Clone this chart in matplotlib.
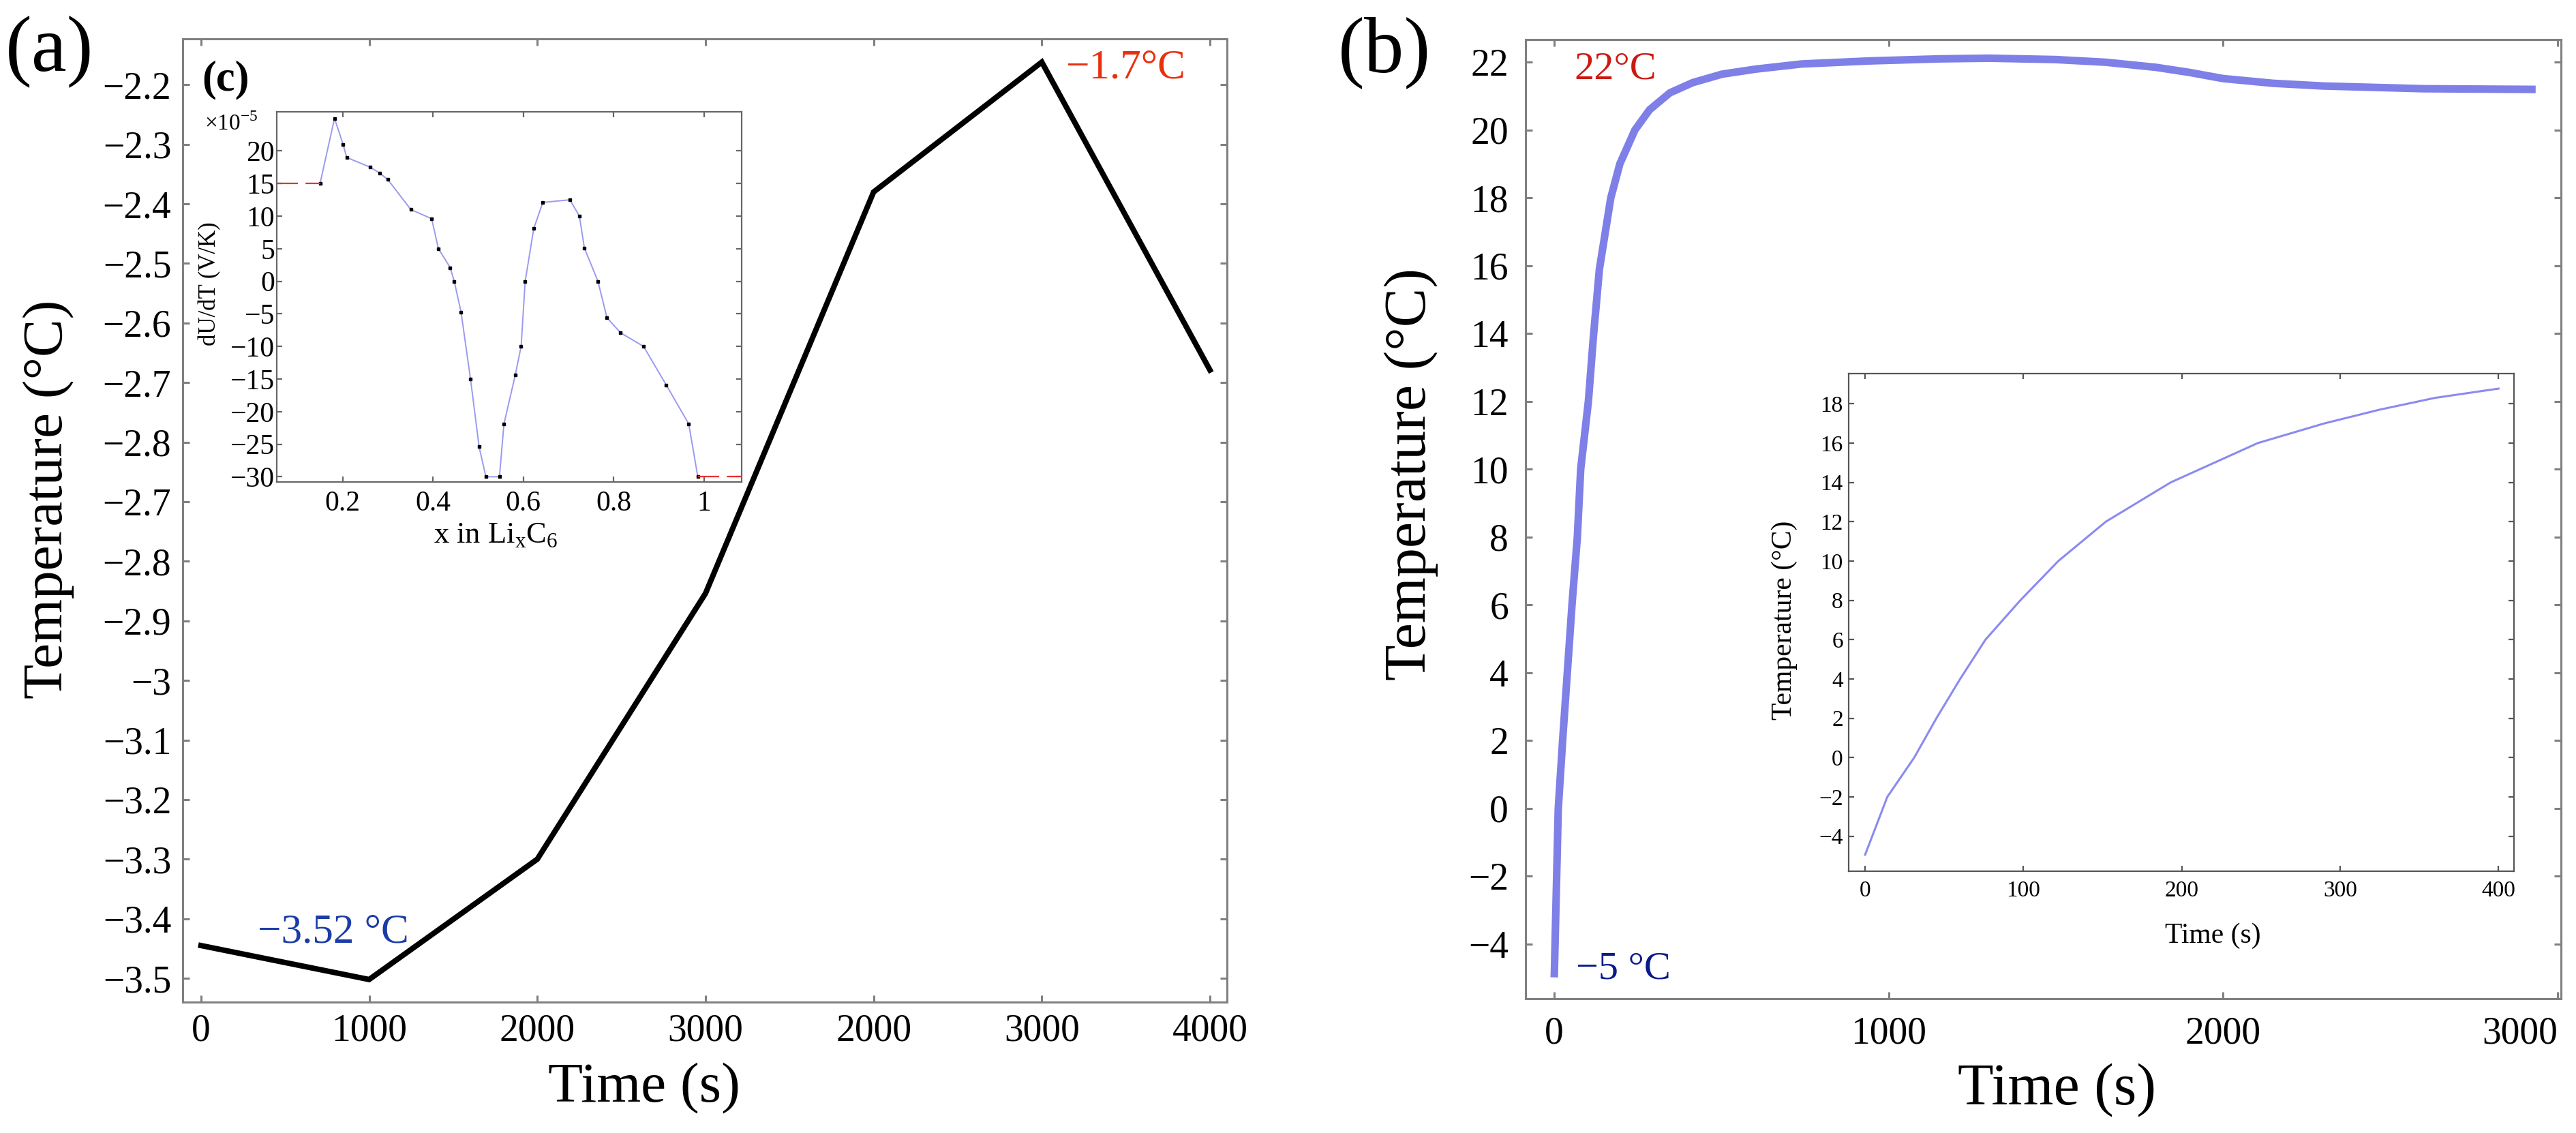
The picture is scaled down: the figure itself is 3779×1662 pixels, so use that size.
import numpy as np
import matplotlib
matplotlib.use("Agg")
import matplotlib.pyplot as plt

plt.rcParams['font.family'] = ['Liberation Serif', 'DejaVu Serif']
plt.rcParams['mathtext.fontset'] = 'custom'
plt.rcParams['mathtext.rm'] = 'Liberation Serif'

# --- (a) temperature at the cell, black polyline ---
# the source figure repeats tick labels on both axes (2000/3000 and -2.7/-2.8 twice),
# so the points live on evenly spaced slots and the slots get the printed labels
a_xticklabels = ['0', '1000', '2000', '3000', '2000', '3000', '4000']
a_yticklabels = ['−2.2', '−2.3', '−2.4', '−2.5', '−2.6', '−2.7', '−2.8', '−2.7',
                 '−2.8', '−2.9', '−3', '−3.1', '−3.2', '−3.3', '−3.4', '−3.5']
a_time = [0, 1000, 2000, 3000, 4000, 5000, 6000]
a_temp = [-3.645, -3.702, -3.50, -3.054, -2.38, -2.162, -2.679]

# --- (c) entropic coefficient dU/dT (x1e-5 V/K) vs x in LixC6 ---
c_x = [0.150, 0.182, 0.201, 0.209, 0.261, 0.282, 0.300, 0.351, 0.397, 0.412,
       0.438, 0.447, 0.462, 0.483, 0.502, 0.517, 0.547, 0.557, 0.582, 0.595,
       0.604, 0.623, 0.643, 0.703, 0.724, 0.735, 0.765, 0.785, 0.815, 0.866,
       0.916, 0.966, 0.986]
c_y = [15.0, 25.0, 21.0, 19.0, 17.5, 16.6, 15.6, 11.0, 9.6, 5.0,
       2.1, 0.0, -4.7, -15.0, -25.4, -30.0, -30.0, -21.9, -14.4, -10.0,
       0.0, 8.1, 12.1, 12.5, 10.0, 5.1, 0.0, -5.6, -7.9, -10.0,
       -15.9, -21.9, -30.0]
c_xticks = [0.2, 0.4, 0.6, 0.8, 1.0]
c_xticklabels = ['0.2', '0.4', '0.6', '0.8', '1']
c_yticks = [-30, -25, -20, -15, -10, -5, 0, 5, 10, 15, 20]
c_xlim = (0.054, 1.083)

# --- (b) temperature rise from -5 C, blue curve ---
b_time = [0, 12, 25, 39, 53, 69, 79, 102, 117, 135, 169, 196, 241, 285, 346,
          414, 502, 604, 740, 944, 1150, 1300, 1500, 1650, 1800, 1900, 2000,
          2150, 2300, 2600, 2935]
b_temp = [-4.98, 0, 2, 4, 6, 8, 10, 12, 13.9, 15.9, 18.0, 19.0, 20.0, 20.6, 21.1,
          21.4, 21.65, 21.8, 21.95, 22.04, 22.1, 22.12, 22.08, 22.0, 21.85, 21.7, 21.52,
          21.38, 21.3, 21.22, 21.2]

# inset of (b), first 400 s
bi_time = [0, 14, 31, 45, 60, 76, 98, 122, 152, 193, 248, 290, 325, 360, 400]
bi_temp = [-4.94, -2, 0, 2, 4, 6, 8, 10, 12, 14, 16, 17.0, 17.7, 18.3, 18.77]

GREY = '#808080'
BLUE = '#7f7fe8'


def style_axes(ax, color, lw, length, labelsize, pad):
    for s in ax.spines.values():
        s.set_color(color)
        s.set_linewidth(lw)
    ax.tick_params(direction='in', top=True, right=True, length=length,
                   width=lw, color=color, labelsize=labelsize, pad=pad)


fig = plt.figure(figsize=(37.79, 16.62), dpi=100)

# ---------------- panel (a) ----------------
ax_a = fig.add_axes([0.0709, 0.1155, 0.4054, 0.8502])
ax_a.plot(a_time, a_temp, color='black', linewidth=5.8, solid_joinstyle='miter')
ax_a.set_xlim(-109, 6101)
ax_a.set_ylim(-3.740, -2.123)
ax_a.set_xticks(a_time)
ax_a.set_xticklabels(a_xticklabels)
ax_a.set_yticks(-2.2 - 0.1 * np.arange(len(a_yticklabels)))
ax_a.set_yticklabels(a_yticklabels)
style_axes(ax_a, GREY, 2.2, 7, 40, 12)
ax_a.set_xlabel('Time (s)', fontsize=60)
ax_a.set_ylabel('Temperature (°C)', fontsize=60)
ax_a.xaxis.set_label_coords(0.442, -0.063)
ax_a.yaxis.set_label_coords(-0.104, 0.522)

i_min = int(np.argmin(a_temp))
i_max = int(np.argmax(a_temp))
ax_a.annotate('−3.52 °C', xy=(a_time[i_min], a_temp[i_min]), xytext=(-38, 50),
              textcoords='offset points', ha='center', va='center',
              fontsize=44, color='#1a3ca8')
ax_a.annotate('−1.7°C', xy=(a_time[i_max], a_temp[i_max]), xytext=(89, -6),
              textcoords='offset points', ha='center', va='center',
              fontsize=44, color='#e8300f')
fig.text(0.0193, 0.955, '(a)', fontsize=84, ha='center', va='center')

# ---------------- inset (c) ----------------
ax_c = fig.add_axes([0.1074, 0.5746, 0.1805, 0.3267])
ax_c.plot(c_x, c_y, color='#9a9af0', linewidth=1.4)
ax_c.plot(c_x, c_y, linestyle='none', marker='s', markersize=3.2,
          color='black')
ax_c.plot([c_xlim[0], c_x[0]], [c_y[0], c_y[0]], color='#e83030',
          linewidth=1.6, dashes=(14, 5))
ax_c.plot([c_x[-1], c_xlim[1]], [c_y[-1], c_y[-1]], color='#e83030',
          linewidth=1.6, dashes=(14, 5))
ax_c.set_xlim(*c_xlim)
ax_c.set_ylim(-30.8, 26.0)
ax_c.set_xticks(c_xticks)
ax_c.set_xticklabels(c_xticklabels)
ax_c.set_yticks(c_yticks)
ax_c.set_yticklabels([str(v).replace('-', '−') for v in c_yticks])
style_axes(ax_c, '#666666', 1.6, 6, 30, 2)
ax_c.tick_params(axis='x', pad=9)
ax_c.set_xlabel(r'x in Li$_\mathregular{x}$C$_\mathregular{6}$', fontsize=32)
ax_c.set_ylabel('dU/dT (V/K)', fontsize=25)
ax_c.xaxis.set_label_coords(0.471, -0.109)
ax_c.yaxis.set_label_coords(-0.120, 0.536)
ax_c.text(-0.155, 0.967, r'×10$^\mathregular{-5}$', transform=ax_c.transAxes,
          fontsize=24, ha='left', va='center')
fig.text(0.0876, 0.9296, '(c)', fontsize=45, fontweight='bold',
         ha='center', va='center')

# ---------------- panel (b) ----------------
ax_b = fig.add_axes([0.5922, 0.1185, 0.4020, 0.8466])
ax_b.plot(b_time, b_temp, color=BLUE, linewidth=8, solid_capstyle='butt',
          solid_joinstyle='round')
ax_b.set_xlim(-86, 3011)
ax_b.set_ylim(-5.61, 22.67)
ax_b.set_xticks([0, 1000, 2000, 3000])
ax_b.set_yticks(np.arange(-4, 23, 2))
ax_b.set_yticklabels([str(v).replace('-', '−') for v in range(-4, 23, 2)])
style_axes(ax_b, GREY, 2.2, 7, 40, 18)
# last label sits flush with the right edge, as in the source
ax_b.get_xticklabels()[-1].set_horizontalalignment('right')
ax_b.set_xlabel('Time (s)', fontsize=62)
ax_b.set_ylabel('Temperature (°C)', fontsize=62)
ax_b.xaxis.set_label_coords(0.513, -0.067)
ax_b.yaxis.set_label_coords(-0.084, 0.547)
ax_b.text(0.087, 0.969, '22°C', transform=ax_b.transAxes, fontsize=42,
          color='#cc1a10', ha='center', va='center')
ax_b.annotate('−5 °C', xy=(b_time[0], b_temp[0]), xytext=(73, 9),
              textcoords='offset points', ha='center', va='center',
              fontsize=42, color='#0a1a8c')
fig.text(0.5374, 0.9537, '(b)', fontsize=84, ha='center', va='center')

# ---------------- inset of (b) ----------------
ax_bi = fig.add_axes([0.7177, 0.2310, 0.2583, 0.4392])
ax_bi.plot(bi_time, bi_temp, color='#8a8af0', linewidth=2.2,
           solid_joinstyle='round')
ax_bi.set_xlim(-10.3, 409.9)
ax_bi.set_ylim(-5.78, 19.53)
ax_bi.set_xticks([0, 100, 200, 300, 400])
ax_bi.set_yticks(np.arange(-4, 19, 2))
ax_bi.set_yticklabels([str(v).replace('-', '−') for v in range(-4, 19, 2)])
style_axes(ax_bi, '#555555', 1.6, 6, 24, 6)
ax_bi.tick_params(axis='x', pad=10)
ax_bi.set_xlabel('Time (s)', fontsize=30)
ax_bi.set_ylabel('Temperature (°C)', fontsize=30)
ax_bi.xaxis.set_label_coords(0.547, -0.103)
ax_bi.yaxis.set_label_coords(-0.077, 0.505)

fig.savefig('out.png', dpi=100)
